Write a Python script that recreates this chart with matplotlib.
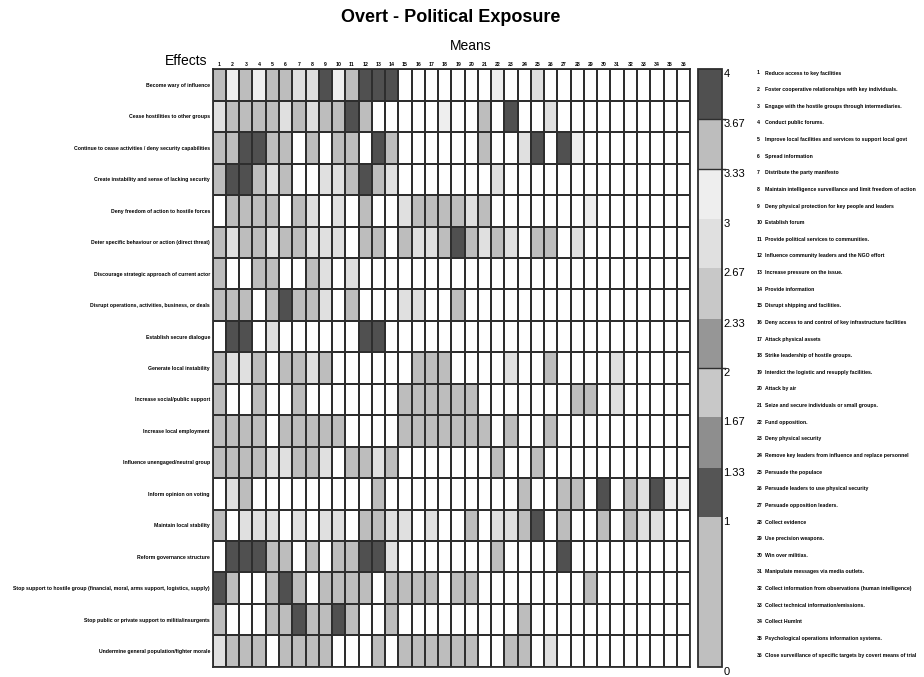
import matplotlib
matplotlib.use("Agg")
import matplotlib.pyplot as plt
from matplotlib.colors import ListedColormap, BoundaryNorm
import numpy as np

N = None

# effects (rows) and means (columns)
effects = [
    "Become wary of influence",
    "Cease hostilities to other groups",
    "Continue to cease activities / deny security capabilities",
    "Create instability and sense of lacking security",
    "Deny freedom of action to hostile forces",
    "Deter specific behaviour or action (direct threat)",
    "Discourage strategic approach of current actor",
    "Disrupt operations, activities, business, or deals",
    "Establish secure dialogue",
    "Generate local instability",
    "Increase social/public support",
    "Increase local employment",
    "Influence unengaged/neutral group",
    "Inform opinion on voting",
    "Maintain local stability",
    "Reform governance structure",
    "Stop support to hostile group (financial, moral, arms support, logistics, supply)",
    "Stop public or private support to militia/insurgents",
    "Undermine general population/fighter morale",
]

means = [
    "Reduce access to key facilities",
    "Foster cooperative relationships with key individuals.",
    "Engage with the hostile groups through intermediaries.",
    "Conduct public forums.",
    "Improve local facilities and services to support local govt",
    "Spread information",
    "Distribute the party manifesto",
    "Maintain intelligence surveillance and limit freedom of action",
    "Deny physical protection for key people and leaders",
    "Establish forum",
    "Provide political services to communities.",
    "Influence community leaders and the NGO effort",
    "Increase pressure on the issue.",
    "Provide information",
    "Disrupt shipping and facilities.",
    "Deny access to and control of key infrastructure facilities",
    "Attack physical assets",
    "Strike leadership of hostile groups.",
    "Interdict the logistic and resupply facilities.",
    "Attack by air",
    "Seize and secure individuals or small groups.",
    "Fund opposition.",
    "Deny physical security",
    "Remove key leaders from influence and replace personnel",
    "Persuade the populace",
    "Persuade leaders to use physical security",
    "Persuade opposition leaders.",
    "Collect evidence",
    "Use precision weapons.",
    "Win over militias.",
    "Manipulate messages via media outlets.",
    "Collect information from observations (human intelligence)",
    "Collect technical information/emissions.",
    "Collect HumInt",
    "Psychological operations information systems.",
    "Close surveillance of specific targets by covert means of trial",
]

# mean ratings per effect (row) and mean (column); None = no rating
ratings = [
    [3.5, 3.2, 3.5, 3.2, 3.5, 3.5, 2.8, 2.8, 4, 3.2, 3.5, 4, 4, 4, N, N, N, N, N, N, N, 3.2, N, N, 2.8, N, N, N, N, N, N, N, N, N, N, N],
    [2.8, 3.5, 3.5, 3.5, 3.5, 2.8, 3.5, 2.8, 3.5, 3.5, 4, 3.5, N, N, N, N, N, 3.2, N, N, 3.5, N, 4, N, N, 2.8, N, N, N, N, N, N, N, N, N, N],
    [3.5, 3.5, 4, 4, 3.5, 3.5, N, 3.5, N, 3.5, 3.5, N, 4, 3.5, N, N, N, N, N, N, 3.5, N, N, 2.8, 4, N, 4, 3.2, N, N, N, N, N, N, N, N],
    [3.5, 4, 4, 3.5, 2.8, 3.5, N, N, 2.8, 2.8, 3.5, 4, 3.5, 2.8, N, N, N, N, N, N, N, 2.8, N, N, N, N, N, N, N, N, N, N, N, N, N, N],
    [N, 3.5, 3.5, 3.5, 3.5, N, 3.5, 2.8, N, 2.8, N, 3.5, N, N, 2.8, 3.5, 3.5, 3.5, 3.5, 2.8, 3.5, N, N, N, N, N, N, N, 3.2, N, N, N, N, N, N, N],
    [3.5, 2.8, 3.5, 3.5, 2.8, 3.5, 3.5, 2.8, 2.8, 2.8, N, 3.5, 3.5, N, 3.5, 2.8, 2.8, 3.5, 4, 3.5, 2.8, 3.5, 2.8, N, 3.5, 3.5, N, 2.8, N, N, N, N, N, N, N, N],
    [3.5, N, N, 3.5, 3.5, N, N, 3.5, 2.8, N, 2.8, N, N, N, N, N, N, N, N, N, N, N, N, N, N, N, N, N, N, N, N, N, N, N, N, N],
    [3.5, 3.5, 3.5, N, 3.5, 4, 3.5, 3.5, 2.8, N, 3.5, N, N, N, 2.8, 2.8, N, N, 3.5, N, N, N, N, N, N, N, N, N, N, N, N, N, N, N, N, N],
    [N, 4, 4, N, 2.8, N, N, N, N, N, N, 4, 4, N, N, N, N, N, N, N, N, N, N, N, N, N, N, N, N, N, N, N, N, N, N, N],
    [3.5, 2.8, 2.8, 3.5, N, 3.5, 3.5, 2.8, 3.5, N, N, N, N, N, N, 3.5, 3.5, 3.5, N, N, N, N, 2.8, N, N, 3.5, N, N, N, N, 2.8, N, N, N, N, N],
    [3.5, N, N, 3.5, N, N, 3.5, N, N, N, N, N, N, N, 3.5, 3.5, 3.5, 3.5, 3.5, 3.5, N, N, N, N, N, N, N, 3.5, 3.5, N, 2.8, N, N, N, N, N],
    [3.5, 3.5, 3.5, 3.5, N, 3.5, 3.5, 3.5, 3.5, 3.5, N, N, N, N, 3.5, 3.5, 3.5, 3.5, 3.5, 3.5, 3.5, N, 3.5, N, N, 3.5, N, N, N, N, N, N, N, N, N, N],
    [3.5, 3.5, 3.5, 3.5, 2.8, 2.8, 3.5, 3.5, 2.8, N, 3.5, 3.5, 2.8, 3.5, N, N, N, N, N, N, N, 3.5, N, N, 3.5, N, N, N, N, N, N, N, N, N, N, N],
    [N, 2.8, 3.5, N, N, N, N, N, N, N, N, N, 3.5, N, N, N, N, N, N, N, N, N, N, 3.5, N, N, 3.5, 3.5, N, 4, N, 3.5, 2.8, 4, 3.2, 3.2],
    [3.5, N, 2.8, 2.8, 2.8, N, 2.8, N, 2.8, 2.8, N, 3.5, 3.5, 2.8, 2.8, N, 2.8, N, N, 3.5, N, 2.8, 2.8, 3.5, 4, N, 3.5, N, N, 3.5, N, 3.5, 2.8, 2.8, N, N],
    [N, 4, 4, 4, 3.5, 3.5, N, 3.5, N, 3.5, 3.5, 4, 4, 2.8, N, N, N, N, N, N, N, 3.5, N, N, N, N, 4, N, N, N, N, N, N, N, N, N],
    [4, 3.5, N, N, 3.5, 4, 3.5, N, 3.5, 3.5, 3.5, 3.5, N, 3.5, 3.5, 3.5, 3.5, N, 3.5, 3.5, N, N, N, N, N, N, N, N, 3.5, N, N, N, N, N, N, N],
    [3.5, N, N, N, 3.5, 3.5, 4, 3.5, 3.5, 4, 3.5, N, N, 3.5, N, N, N, N, N, N, N, N, N, 3.5, N, N, N, N, N, N, N, N, N, N, N, N],
    [2.8, 3.5, 3.5, 3.5, N, 3.5, 3.5, 3.5, 3.5, N, N, N, 3.5, N, 3.5, 3.5, 3.5, 3.5, 3.5, 3.5, N, N, 3.5, 3.5, N, 2.8, N, N, N, N, N, N, N, N, N, N],
]

# colour scale bands (bottom to top)
bounds = [0, 1, 1.33, 1.67, 2, 2.33, 2.67, 3, 3.33, 3.67, 4]
band_colors = ["#bfbfbf", "#555555", "#8e8e8e", "#c8c8c8", "#969696",
               "#c8c8c8", "#e0e0e0", "#eeeeee", "#bdbdbd", "#505050"]
bound_labels = ["0", "1", "1.33", "1.67", "2", "2.33", "2.67", "3", "3.33", "3.67", "4"]

small = dict(family=["Liberation Sans", "DejaVu Sans"], fontweight="bold", fontsize=3.7)
sans = ["Liberation Sans", "DejaVu Sans"]

data = np.array(ratings, dtype=float)
cmap = ListedColormap(band_colors)
cmap.set_bad("white")
norm = BoundaryNorm(bounds, cmap.N)

fig = plt.figure(figsize=(9.24, 6.77), dpi=100)
ax = fig.add_axes([0.2302, 0.0152, 0.5166, 0.8824])
mesh = ax.pcolormesh(np.ma.masked_invalid(data), cmap=cmap, norm=norm,
                     edgecolors="#2e2e2e", linewidth=1.2)
ax.set_xlim(0, len(means))
ax.set_ylim(len(effects), 0)
for s in ax.spines.values():
    s.set_color("#2e2e2e")
    s.set_linewidth(1.3)
ax.set_xticks(np.arange(len(means)) + 0.5)
ax.set_xticklabels([str(i + 1) for i in range(len(means))], **small)
ax.xaxis.tick_top()
ax.set_yticks(np.arange(len(effects)) + 0.5)
ax.set_yticklabels(effects, **small)
ax.tick_params(length=0, pad=2)

# colour bar
cax = fig.add_axes([0.7554, 0.0152, 0.026, 0.8824])
cb = fig.colorbar(mesh, cax=cax, spacing="proportional", ticks=bounds)
cb.outline.set_edgecolor("#2e2e2e")
cb.outline.set_linewidth(1.3)
cax.set_yticklabels(bound_labels, family=sans, fontsize=8)
for lab in cax.get_yticklabels():
    lab.set_verticalalignment("top")
cax.tick_params(length=0, pad=1)
for b in [3.67, 3.33, 2]:
    cax.plot([0, 1.12], [b, b], color="#2e2e2e", lw=1, clip_on=False,
             transform=cax.get_yaxis_transform())

# numbered list of means
for i, m in enumerate(means):
    y = 1 - (73 + i * 16.63) / 677
    fig.text(757 / 924, y, str(i + 1), va="center", ha="left", **small)
    fig.text(765 / 924, y, m, va="center", ha="left", **small)

fig.text(451 / 924, 1 - 17 / 677, "Overt - Political Exposure", ha="center", va="center",
         family=sans, fontweight="bold", fontsize=13)
fig.text(471 / 924, 1 - 46 / 677, "Means", ha="center", va="center",
         family=sans, fontsize=10)
fig.text(186 / 924, 1 - 61 / 677, "Effects", ha="center", va="center",
         family=sans, fontsize=10)

fig.savefig("out.png", dpi=100, facecolor="white")
